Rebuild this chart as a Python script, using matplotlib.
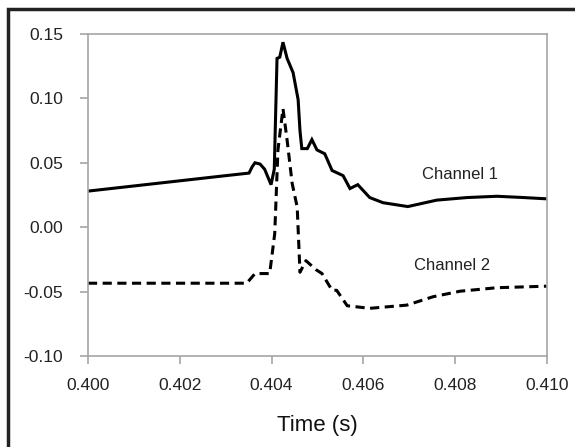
import numpy as np
import matplotlib.pyplot as plt
from matplotlib.patches import Rectangle

plt.rcParams['font.family'] = ['Liberation Sans', 'DejaVu Sans']

# Channel 1 (solid trace), time in s, signal
ch1_t = [0.4000, 0.4010, 0.4020, 0.4030, 0.40351, 0.40358, 0.40364, 0.40375,
         0.40385, 0.40399, 0.40406, 0.40412, 0.40418, 0.40425, 0.40434,
         0.40447, 0.40458, 0.40462, 0.40466, 0.40478, 0.40488, 0.40499,
         0.40516, 0.40532, 0.40556, 0.40571, 0.40588, 0.40614, 0.40643,
         0.40697, 0.40760, 0.40826, 0.40891, 0.40950, 0.4100]
ch1_v = [0.028, 0.032, 0.036, 0.040, 0.042, 0.047, 0.050, 0.049,
         0.045, 0.033, 0.045, 0.131, 0.132, 0.1436, 0.131,
         0.120, 0.099, 0.075, 0.061, 0.061, 0.068, 0.060,
         0.057, 0.044, 0.040, 0.030, 0.033, 0.023, 0.019,
         0.016, 0.021, 0.023, 0.024, 0.023, 0.022]

# Channel 2 (dashed trace)
ch2_t = [0.4000, 0.4010, 0.4020, 0.4030, 0.40346, 0.40364, 0.40396, 0.40407,
         0.40414, 0.40425, 0.40434, 0.40445, 0.40456, 0.40460, 0.40462,
         0.40475, 0.40497, 0.40510, 0.40532, 0.40542, 0.40565, 0.40614,
         0.40695, 0.40752, 0.40811, 0.40891, 0.4100]
ch2_v = [-0.0435, -0.0435, -0.0435, -0.0435, -0.0435, -0.036, -0.036, -0.005,
         0.060, 0.092, 0.0675, 0.034, 0.0155, -0.018, -0.035,
         -0.026, -0.033, -0.036, -0.049, -0.049, -0.061, -0.063,
         -0.0605, -0.054, -0.0497, -0.047, -0.0458]

x_ticks = [0.400, 0.402, 0.404, 0.406, 0.408, 0.410]
y_ticks = [-0.10, -0.05, 0.00, 0.05, 0.10, 0.15]

fig = plt.figure(figsize=(5.75, 4.47), dpi=100)
ax = fig.add_axes([0.153, 0.2036, 0.798, 0.7204])

ax.plot(ch1_t, ch1_v, color='black', linewidth=2.2, solid_joinstyle='miter')
ax.plot(ch2_t, ch2_v, color='black', linewidth=2.2, linestyle=(0, (3, 1.8)))

ax.set_xlim(0.400, 0.410)
ax.set_ylim(-0.10, 0.15)
ax.set_xticks(x_ticks)
ax.set_xticklabels([f'{v:.3f}' for v in x_ticks])
ax.set_yticks(y_ticks)
ax.set_yticklabels([f'{v:.2f}' for v in y_ticks])

for s in ax.spines.values():
    s.set_color('#a6a6a6')
    s.set_linewidth(1.2)
ax.tick_params(direction='out', length=6, width=1.2, color='#a6a6a6',
               labelsize=12.5, labelcolor='#222222')
ax.tick_params(axis='x', pad=10)
ax.tick_params(axis='y', pad=12)

ax.set_xlabel('Time (s)', fontsize=16, color='#111111', labelpad=16)

ax.text(0.40810, 0.041, 'Channel 1', fontsize=12, ha='center', va='center',
        color='#222222')
ax.text(0.40794, -0.030, 'Channel 2', fontsize=12, ha='center', va='center',
        color='#222222')

# black frame around the whole figure (runs off right and bottom edges)
fig.patches.append(Rectangle((8 / 575, -0.05), 1.2, 1 - 9 / 447 + 0.05,
                             transform=fig.transFigure, fill=False,
                             edgecolor='#222222', linewidth=2.5))

fig.savefig('out.png', dpi=100)
